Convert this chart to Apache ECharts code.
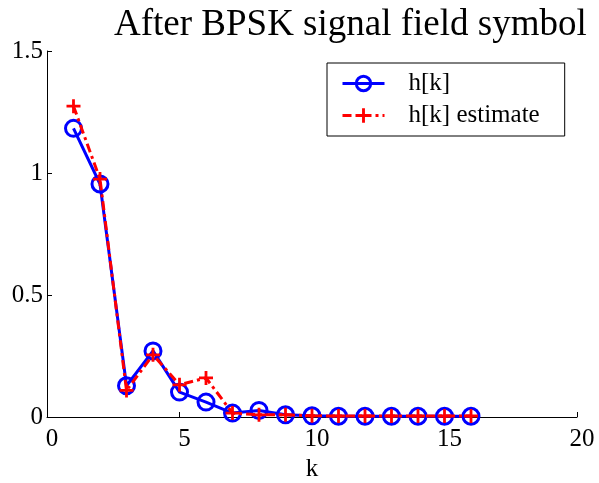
<!DOCTYPE html>
<html>
<head>
<meta charset="utf-8">
<script src="https://cdn.jsdelivr.net/npm/echarts@6/dist/echarts.min.js"></script>
<style>
  html, body { margin: 0; padding: 0; background: #fff; }
  #chart { width: 599px; height: 483px; }
</style>
</head>
<body>
<div id="chart"></div>
<script>
// Channel taps k = 1..16
const kValues = [1, 2, 3, 4, 5, 6, 7, 8, 9, 10, 11, 12, 13, 14, 15, 16];
// True channel impulse response magnitude
const hTrue = [1.183, 0.955, 0.128, 0.271, 0.102, 0.061, 0.016, 0.027, 0.009, 0.005, 0.003, 0.003, 0.003, 0.003, 0.003, 0.003];
// Estimated channel after the BPSK signal field symbol
const hEst = [1.274, 0.975, 0.109, 0.255, 0.132, 0.160, 0.016, 0.009, 0.009, 0.005, 0.004, 0.004, 0.004, 0.004, 0.004, 0.004];
const xTicks = [0, 5, 10, 15, 20];
const yTicks = [0, 0.5, 1, 1.5];

const serif = '"Liberation Serif", "Times New Roman", serif';
const plusPath = 'path://M4,0h2v4h4v2h-4v4h-2v-4h-4v-2h4z';

const chart = echarts.init(document.getElementById('chart'), null, { renderer: 'canvas' });
chart.setOption({
  animation: false,
  backgroundColor: '#fff',
  title: {
    text: 'After BPSK signal field symbol',
    left: 109, top: 2,
    textStyle: { fontFamily: serif, fontSize: 37, fontWeight: 'normal', color: '#000' }
  },
  grid: { left: 47, right: 22, top: 51, bottom: 66, outerBoundsMode: 'none', containLabel: false },
  legend: {
    orient: 'vertical',
    left: 327, top: 63,
    padding: [8, 25, 8, 14],
    borderColor: '#000', borderWidth: 1,
    itemWidth: 42, itemHeight: 18, itemGap: 7,
    textStyle: { fontFamily: serif, fontSize: 25, color: '#000', lineHeight: 20, padding: [0, 0, 0, 19] },
    data: [
      { name: 'h[k]', lineStyle: { width: 3 }, itemStyle: { borderWidth: 3 } },
      { name: 'h[k] estimate', lineStyle: { width: 3 } }
    ]
  },
  xAxis: {
    type: 'value', min: xTicks[0], max: xTicks[xTicks.length - 1], interval: 5,
    name: 'k', nameLocation: 'middle', nameGap: 40,
    nameTextStyle: { fontFamily: serif, fontSize: 25, color: '#000' },
    axisLine: { lineStyle: { color: '#000', width: 1 } },
    axisTick: { inside: true, length: 5, lineStyle: { color: '#000' } },
    axisLabel: { fontFamily: serif, fontSize: 25, color: '#000', margin: 10, padding: [0, 0, 0, 10] },
    splitLine: { show: false }
  },
  yAxis: {
    type: 'value', min: yTicks[0], max: yTicks[yTicks.length - 1], interval: 0.5,
    axisLine: { show: true, lineStyle: { color: '#000', width: 1 } },
    axisTick: { show: true, inside: true, length: 5, lineStyle: { color: '#000' } },
    axisLabel: { fontFamily: serif, fontSize: 25, color: '#000', margin: 4, padding: [6, 0, 0, 0] },
    splitLine: { show: false }
  },
  series: [
    {
      name: 'h[k]',
      type: 'line',
      data: kValues.map((k, i) => [k, hTrue[i]]),
      symbol: 'circle',
      symbolSize: 16,
      lineStyle: { color: '#0000ff', width: 3 },
      itemStyle: { color: 'rgba(255,255,255,0)', borderColor: '#0000ff', borderWidth: 3 },
      z: 2
    },
    {
      name: 'h[k] estimate',
      type: 'line',
      data: kValues.map((k, i) => [k, hEst[i]]),
      symbol: plusPath,
      symbolSize: 14,
      lineStyle: { color: '#ff0000', width: 3, type: [9, 4, 3, 4] },
      itemStyle: { color: '#ff0000', borderWidth: 0 },
      z: 3
    }
  ]
});
</script>
</body>
</html>
